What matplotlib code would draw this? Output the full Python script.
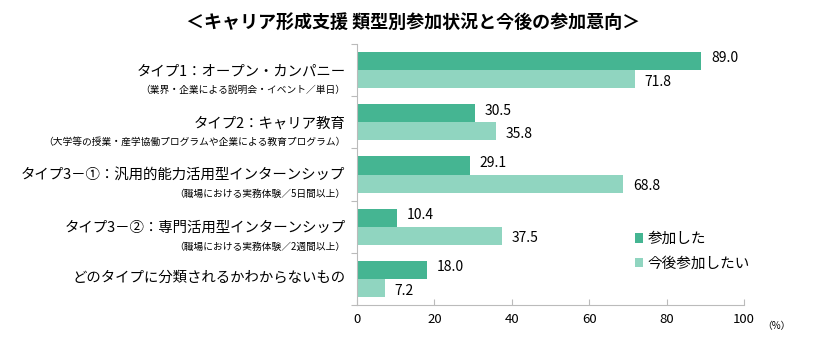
import matplotlib.pyplot as plt
import matplotlib.transforms as mtransforms
import numpy as np

plt.rcParams['font.family'] = ['Noto Sans CJK JP', 'DejaVu Sans']

categories = [
    "タイプ1：オープン・カンパニー",
    "タイプ2：キャリア教育",
    "タイプ3－①：汎用的能力活用型インターンシップ",
    "タイプ3－②：専門活用型インターンシップ",
    "どのタイプに分類されるかわからないもの",
]
subtitles = [
    "（業界・企業による説明会・イベント／単日）",
    "（大学等の授業・産学協働プログラムや企業による教育プログラム）",
    "（職場における実務体験／5日間以上）",
    "（職場における実務体験／2週間以上）",
    "",
]
participated = [89.0, 30.5, 29.1, 10.4, 18.0]
want_to = [71.8, 35.8, 68.8, 37.5, 7.2]
series_names = ["参加した", "今後参加したい"]
xticks = [0, 20, 40, 60, 80, 100]

dark = "#45b592"
light = "#90d5c0"

fig = plt.figure(figsize=(8.27, 3.40), dpi=100)
ax = fig.add_axes([0.4317, 0.1029, 0.4679, 0.7677])

y = np.arange(len(categories))
h = 0.345
ax.barh(y - h / 2, participated, height=h, color=dark, label=series_names[0])
ax.barh(y + h / 2, want_to, height=h, color=light, label=series_names[1])

for yi, v in zip(y, participated):
    ax.text(v + 2.5, yi - h / 2 - 0.05, f"{v:.1f}", va="center", ha="left", fontsize=10)
for yi, v in zip(y, want_to):
    ax.text(v + 2.5, yi + h / 2 + 0.05, f"{v:.1f}", va="center", ha="left", fontsize=10)

ax.set_xlim(0, 100)
ax.set_ylim(len(categories) - 0.5, -0.5)
ax.set_xticks(xticks)
ax.set_xticklabels([str(t) for t in xticks], fontsize=9.5)
ax.set_yticks(np.arange(len(categories) + 1) - 0.5)
ax.set_yticklabels([])
ax.tick_params(axis="y", length=4, color="#bbbbbb", direction="out")
ax.tick_params(axis="x", length=4, color="#bbbbbb", direction="in", pad=6)

for s in ["top", "right"]:
    ax.spines[s].set_visible(False)
for s in ["left", "bottom"]:
    ax.spines[s].set_color("#bbbbbb")

trans = mtransforms.blended_transform_factory(ax.transAxes, ax.transData)
for yi, cat, sub in zip(y, categories, subtitles):
    if sub:
        ax.text(-0.03, yi + 0.03, cat, transform=trans, ha="right", va="center", fontsize=10.4)
        ax.text(-0.03, yi + 0.38, sub, transform=trans, ha="right", va="center", fontsize=7.0)
    else:
        ax.text(-0.03, yi - 0.03, cat, transform=trans, ha="right", va="center", fontsize=10.4)

ax.legend(loc="lower right", bbox_to_anchor=(1.05, 0.08), frameon=False, fontsize=10.5,
          handlelength=0.6, handleheight=0.6, handletextpad=0.3, labelspacing=0.75)

fig.text(0.5, 0.935, "＜キャリア形成支援 類型別参加状況と今後の参加意向＞",
         ha="center", va="center", fontsize=13, fontweight="bold")
fig.text(0.922, 0.04, "（%）", ha="left", va="center", fontsize=7)

fig.savefig("out.png", dpi=100)
